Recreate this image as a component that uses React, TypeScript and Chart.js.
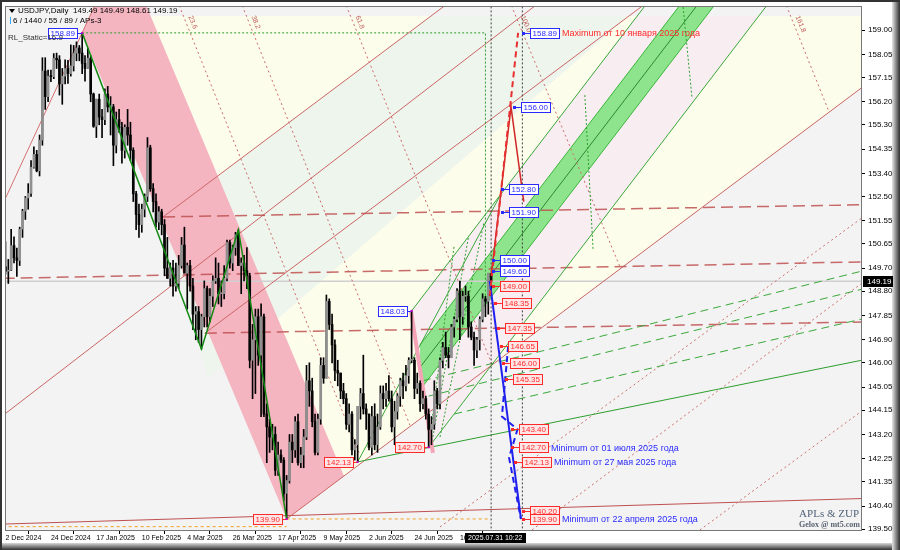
import React, { useEffect, useRef } from 'react';
import { Chart, registerables } from 'chart.js';

Chart.register(...registerables);

// ---------- candles (bar index 0 = 2 Dec 2024) ----------
const OPEN = [149.75,149.58,149.62,150.58,150.10,150.00,151.22,151.92,152.44,152.62,153.64,154.14,153.50,154.70,157.40,156.40,157.20,157.18,157.90,157.84,156.90,157.20,157.50,157.30,157.60,158.10,158.30,158.10,157.70,157.50,157.90,156.50,155.24,156.30,155.60,155.50,156.50,156.00,156.00,154.50,155.50,155.20,154.30,155.20,154.90,154.30,152.60,151.80,151.40,152.00,152.50,154.40,152.80,152.30,151.50,151.90,151.40,149.70,149.30,149.70,149.00,149.10,149.80,150.60,149.50,149.80,149.00,147.90,148.00,147.30,147.80,148.90,147.80,148.60,149.20,149.30,148.70,148.70,149.30,150.70,149.90,150.50,151.00,149.80,149.90,149.60,149.40,146.10,146.90,147.80,146.30,147.80,144.00,143.50,143.10,143.20,141.80,142.40,142.20,140.90,141.40,142.90,142.60,143.70,142.10,142.40,143.10,145.30,144.90,143.70,142.50,143.80,145.90,145.40,148.40,147.50,146.70,145.70,145.60,144.90,144.60,143.60,144.00,142.60,142.80,144.30,144.80,144.20,144.00,142.70,143.90,142.80,143.50,144.80,144.60,144.90,144.60,143.50,144.10,144.70,145.30,145.10,145.50,146.10,146.10,145.00,145.20,144.40,144.60,144.00,143.40,143.60,144.90,144.40,146.10,146.60,146.30,146.20,147.40,147.70,148.80,147.80,148.60,148.60,147.40,147.00,146.50,146.90,147.70,148.50,148.40,149.49];
const HIGH = [150.74,150.04,151.22,150.92,150.48,151.30,152.00,152.50,153.00,153.90,154.44,154.30,154.90,157.92,157.92,157.44,157.44,158.08,158.10,158.00,157.50,157.84,157.82,158.42,158.40,158.54,158.40,158.89,158.00,158.30,158.00,156.54,156.30,156.50,155.90,156.70,156.80,156.40,156.10,155.80,155.90,155.40,155.30,155.90,155.40,154.40,152.70,152.20,152.20,152.60,154.80,154.50,153.00,152.60,152.10,152.00,151.60,150.90,149.90,150.00,149.90,150.20,150.90,151.30,149.90,150.00,149.30,148.20,148.20,147.90,149.20,149.00,148.90,149.40,150.10,149.90,149.20,149.80,150.80,150.80,150.60,151.10,151.20,150.10,150.20,150.50,149.50,147.50,148.10,148.10,148.30,147.90,144.40,143.80,143.60,143.50,142.90,142.60,142.30,141.60,143.20,143.20,143.90,144.00,142.70,143.40,145.90,146.00,145.40,144.00,144.00,146.20,146.20,148.65,148.50,147.90,146.90,146.10,145.60,145.20,144.80,144.40,144.10,143.00,144.30,145.00,146.30,144.40,144.00,144.30,144.40,144.00,145.10,145.10,145.20,145.50,144.90,144.50,144.80,145.40,145.60,145.90,146.20,148.03,146.20,145.60,145.30,144.90,144.70,144.20,143.90,145.30,145.00,146.20,146.80,147.20,146.60,147.50,147.80,148.90,149.19,148.80,149.00,148.80,147.60,147.20,147.00,147.80,148.70,148.60,149.50,149.49];
const LOW = [149.46,149.10,149.60,149.90,149.38,149.80,150.90,151.60,152.00,152.50,153.60,153.46,153.30,154.50,155.90,156.20,156.98,157.10,157.50,156.46,156.10,156.90,156.92,157.20,157.40,157.80,157.80,157.30,157.00,157.50,156.20,155.20,154.80,155.30,154.80,155.30,155.80,154.90,153.70,154.20,155.00,153.80,154.00,154.50,153.90,152.30,151.20,150.90,151.10,151.70,152.30,152.70,151.90,151.30,151.20,151.00,149.40,149.30,149.00,148.60,148.80,148.90,149.70,149.70,148.10,148.80,147.30,146.90,146.80,146.54,147.40,147.40,147.60,148.20,149.10,148.30,148.20,148.50,149.20,149.70,149.60,150.20,149.80,148.70,149.20,148.90,145.80,144.60,144.80,145.90,143.90,143.90,142.10,142.50,142.60,141.60,141.60,142.10,140.60,139.90,141.30,142.10,142.30,142.00,141.90,141.90,143.00,144.30,143.50,142.40,142.40,143.60,145.20,145.40,147.30,146.00,145.30,145.10,144.60,144.40,143.40,143.30,142.40,142.20,142.13,143.80,144.00,143.40,142.60,142.40,142.60,142.50,143.40,144.20,144.30,144.50,143.30,142.80,143.80,144.30,144.60,144.90,145.20,146.00,144.60,144.80,144.10,144.20,143.80,142.70,142.80,143.40,144.20,144.20,145.80,146.20,145.80,146.20,147.00,147.60,146.90,147.50,148.40,147.00,146.90,145.90,146.20,146.50,147.60,147.80,147.90,148.61];
const CLOSE = [149.58,149.62,150.58,150.10,150.00,151.22,151.92,152.44,152.62,153.64,154.14,153.50,154.70,157.40,156.40,157.20,157.18,157.90,157.84,156.90,157.20,157.50,157.30,157.60,158.10,158.30,158.10,157.70,157.50,157.90,156.50,155.24,156.30,155.60,155.50,156.50,156.00,156.00,154.50,155.50,155.20,154.30,155.20,154.90,154.30,152.60,151.80,151.40,152.00,152.50,154.40,152.80,152.30,151.50,151.90,151.40,149.70,149.30,149.70,149.00,149.10,149.80,150.60,149.50,149.80,149.00,147.90,148.00,147.30,147.80,148.90,147.80,148.60,149.20,149.30,148.70,148.70,149.30,150.70,149.90,150.50,151.00,149.80,149.90,149.60,149.40,146.10,146.90,147.80,146.30,147.80,144.00,143.50,143.10,143.20,141.80,142.40,142.20,140.90,141.40,142.90,142.60,143.70,142.10,142.40,143.10,145.30,144.90,143.70,142.50,143.80,145.90,145.40,148.40,147.50,146.70,145.70,145.60,144.90,144.60,143.60,144.00,142.60,142.80,144.30,144.80,144.20,144.00,142.70,143.90,142.80,143.50,144.80,144.60,144.90,144.60,143.50,144.10,144.70,145.30,145.10,145.50,146.10,146.10,145.00,145.20,144.40,144.60,144.00,143.40,143.60,144.90,144.40,146.10,146.60,146.30,146.20,147.40,147.70,148.80,147.80,148.60,148.60,147.40,147.00,146.50,146.90,147.70,148.50,148.40,149.50,149.19];

// ---------- axes ----------
const DATE_TICK_BARS = [0, 16, 32, 48, 64, 80, 96, 112, 128, 144, 160];
const DATE_TICK_LABELS = ['2 Dec 2024', '24 Dec 2024', '17 Jan 2025', '10 Feb 2025', '4 Mar 2025', '26 Mar 2025', '17 Apr 2025', '9 May 2025', '2 Jun 2025', '24 Jun 2025', '16 Jul 2025'];
const PRICE_TICKS = [139.5, 140.4, 141.35, 142.25, 143.2, 144.15, 145.05, 146.0, 146.9, 147.85, 148.8, 149.7, 150.65, 151.55, 152.5, 153.4, 154.35, 155.3, 156.2, 157.15, 158.05, 159.0];
const X_MIN = -0.17, X_MAX = 301.59, Y_MIN = 139.43, Y_MAX = 159.94;

// ---------- zones [bar, price] ----------
const ZONE_YELLOW = [[51.1, 159.55], [310, 159.55], [310, 157.46], [99, 139.9]];
const ZONE_GREEN = [[55.5, 151.7], [149.8, 159.55], [219.4, 159.55], [71.25, 145.37]];
const ZONE_PINKISH = [[143, 148.03], [222.4, 159.55], [265.2, 159.55], [149, 142.7]];
const PINK_BAND = [[27, 158.89], [33.7, 160.5], [47.5, 160.5], [119.2, 141.58], [99, 139.9]];
const GREEN_BAND = [[145.95, 146.7], [241.1, 160.5], [253.3, 160.5], [145.95, 144.94]];
const GREEN_BAND_MID = [[145.95, 145.82], [247.2, 160.5]];

// ---------- lines [bar, price] ----------
const RED_A = [[55.5, 151.7], [165, 160.81]];
const RED_B = [[-2, 143.85], [192, 160.42]];
const RED_C = [[70.2, 147.16], [231, 160.5]];
const RED_L0 = [[99, 139.9], [305, 157.04]];
const RED_STEEP = [[-1, 152.19], [33.7, 160.5]];
const RED_BOTTOM = [[-1, 139.7], [305, 140.71]];
const DOT_FANS = [
  [[59.2, 160.5], [124.8, 142.4]],
  [[81.4, 160.5], [142.4, 143.57]],
  [[118.0, 160.5], [171.3, 145.95]],
  [[176.1, 160.5], [216.4, 149.74]],
  [[273.0, 160.5], [290, 155.8]],
];
const DOT_UWL = [
  [[153, 139.59], [305, 151.94]],
  [[185.4, 139.47], [305, 149.4]],
  [[244.5, 139.47], [305, 144.4]],
];
const DASH_H1 = [[55.5, 151.7], [305, 152.18]];
const DASH_H2 = [[-1, 149.3], [305, 149.95]];
const DASH_H3 = [[70.2, 147.16], [305, 147.6]];
const GREEN_TREND = [[124, 142.13], [305, 146.18]];
const GREEN_FAN = [
  [[147, 145.3], [305, 149.68]],
  [[149, 144.7], [305, 148.97]],
  [[158, 144.0], [305, 147.8]],
];
const GREEN_T1 = [[149, 142.7], [271.8, 160.5]];
const GREEN_T2 = [[143, 148.03], [229, 160.5]];
const GREEN_STEEP = [[124, 142.13], [174, 152.5]];
const GREEN_RL = [
  [[149, 142.7], [158, 150.6]],
  [[150, 142.8], [163, 150.9]],
  [[153, 143.1], [168.5, 151.5]],
  [[204, 156.46], [206.9, 150.41]],
  [[238.6, 159.9], [241.7, 156.38]],
];
const GREEN_ZIGZAG = [[27, 158.89], [69, 146.54], [82, 151.2], [99, 139.9]];
const GREEN_BOX = [[27, 158.89], [169, 158.89], [169, 148.4]];
const ORANGE_LOW_LEFT = [[-1, 139.6], [99, 139.6]];
const ORANGE_LOW_RIGHT = [[99, 139.9], [170, 139.9]];
const PINK_LEG = [[142.8, 148.02], [150.5, 142.48]];
const BID_LINE = [[-1, 149.19], [305, 149.19]];
const VLINE_NOW = [[171, 130], [171, 170]];
const VLINE_SHIFT = [[182, 130], [182, 170]];
const RED_PROJ_DASH = [[170.5, 148.61], [180.5, 158.89]];
const RED_PROJ = [[171, 149.4], [178, 156.0], [182.5, 152.3]];
const BLUE_PROJ = [[170.5, 149.2], [181.5, 139.9]];
const BLUE_PROJ_DASH = [[177, 146.65], [174.8, 143.9], [180.3, 143.4], [177.3, 142.3], [181.5, 139.9]];

// ---------- price labels ----------
const RIGHT_LABEL_VALUES = [158.89, 156.0, 152.8, 151.9, 150.0, 149.6, 149.0, 148.35, 147.35, 146.65, 146.0, 145.35, 143.4, 142.7, 142.13, 140.2, 139.9];
const RIGHT_LABEL_BARS = [184.7, 181.5, 177.3, 177.3, 174.1, 174.1, 174.1, 174.8, 175.9, 177.0, 177.6, 178.7, 180.8, 180.8, 181.9, 184.7, 184.7];
const RIGHT_LABEL_BLUE = [true, true, true, true, true, true, false, false, false, false, false, false, false, false, false, false, false];
const RIGHT_LABEL_NOTES = ['Maximum от 10 января 2025 года', '', '', '', '', '', '', '', '', '', '', '', '', 'Minimum от 01 июля 2025 года', 'Minimum от 27 мая 2025 года', '', 'Minimum от 22 апреля 2025 года'];
const NOTE_BLUE = [false, false, false, false, false, false, false, false, false, false, false, false, false, true, true, false, true];
const POINT_LABEL_VALUES = [158.89, 148.03, 142.13, 142.7, 139.9];
const POINT_LABEL_BARS = [27, 143, 124, 149, 99];
const POINT_LABEL_BLUE = [true, true, false, false, false];
const FAN_TEXTS = ['23.6', '38.2', '61.8', '100.0', '161.8'];
const LAST_PRICE = 149.19;
const HEADER = 'USDJPY,Daily  149.49 149.49 148.61 149.19';
const HEADER2 = '6 / 1440 / 55 / 89 / APs-3';
const HEADER3 = 'RL_Static=16.9';
const CROSS_TIME = '2025.07.31 10:22';
const CROSS_BAR = 161.8;

const FONT = '"Liberation Sans", Arial, sans-serif';

type Pt = number[];
const P = (pts: Pt[]) => pts.map(([x, y]) => ({ x, y }));
function lineDs(pts: Pt[], color: string, width: number, dash: number[] = [], order = 50) {
  return { type: 'line', data: P(pts), borderColor: color, borderWidth: width, borderDash: dash, pointRadius: 0, fill: false, tension: 0, order, spanGaps: true };
}
function zoneDs(pts: Pt[], color: string, order: number) {
  return { type: 'line', data: P([...pts, pts[0]]), borderColor: 'rgba(0,0,0,0)', borderWidth: 0, backgroundColor: color, fill: 'shape', pointRadius: 0, tension: 0, order };
}

function priceBox(ctx: CanvasRenderingContext2D, xl: number, yc: number, text: string, blue: boolean) {
  const w = Math.ceil(ctx.measureText(text).width) + 4;
  const h = 10;
  const col = blue ? '#2a2aff' : '#ff2b2b';
  const x0 = Math.round(xl) + 0.5, y0 = Math.round(yc - h / 2) + 0.5;
  ctx.fillStyle = blue ? '#ffffff' : '#ffe6e6';
  ctx.fillRect(x0, y0, w, h);
  ctx.strokeStyle = col;
  ctx.lineWidth = 1;
  ctx.setLineDash([]);
  ctx.strokeRect(x0, y0, w, h);
  ctx.fillStyle = col;
  ctx.textAlign = 'left';
  ctx.textBaseline = 'middle';
  ctx.fillText(text, x0 + 2, y0 + h / 2 + 0.5);
  return w;
}

const framePlugin = {
  id: 'mtframe',
  beforeDraw(chart: any) {
    const { ctx, chartArea: a, width, height } = chart;
    ctx.save();
    ctx.fillStyle = '#ffffff';
    ctx.fillRect(0, 0, width, height);
    let g = ctx.createLinearGradient(width - 8, 0, width, 0);
    g.addColorStop(0, '#e6e6e6');
    g.addColorStop(1, '#2e2e2e');
    ctx.fillStyle = g;
    ctx.fillRect(width - 8, 0, 8, height);
    g = ctx.createLinearGradient(0, height - 7, 0, height);
    g.addColorStop(0, '#d8d8d8');
    g.addColorStop(1, '#2e2e2e');
    ctx.fillStyle = g;
    ctx.fillRect(0, height - 7, width - 8, 7);
    ctx.fillStyle = '#333333';
    ctx.fillRect(0, 0, width, 2);
    ctx.fillRect(0, 0, 2, height);
    ctx.fillStyle = '#f3f3f3';
    ctx.fillRect(a.left, a.top, a.right - a.left, a.bottom - a.top);
    ctx.restore();
  },
  afterDraw(chart: any) {
    const { ctx, chartArea: a, scales } = chart;
    const X = (v: number) => scales.x.getPixelForValue(v);
    const Y = (v: number) => scales.y.getPixelForValue(v);
    ctx.save();
    ctx.strokeStyle = '#777777';
    ctx.lineWidth = 1;
    ctx.strokeRect(a.left + 0.5, a.top + 0.5, a.right - a.left - 1, a.bottom - a.top - 1);

    // fan labels
    ctx.font = `7px ${FONT}`;
    ctx.fillStyle = '#c05a5a';
    DOT_FANS.forEach((ln, k) => {
      const [p0, p1] = ln;
      const ang = Math.atan2(Y(p1[1]) - Y(p0[1]), X(p1[0]) - X(p0[0]));
      const t = (159.5 - p0[1]) / (p1[1] - p0[1]);
      const px = X(p0[0] + t * (p1[0] - p0[0]));
      const py = Y(159.5);
      ctx.save();
      ctx.translate(px + 3, py);
      ctx.rotate(ang);
      ctx.textAlign = 'left';
      ctx.textBaseline = 'bottom';
      ctx.fillText(FAN_TEXTS[k], 0, 0);
      ctx.restore();
    });

    ctx.font = `8px ${FONT}`;
    // point labels (box left of point)
    POINT_LABEL_VALUES.forEach((v, k) => {
      const px = X(POINT_LABEL_BARS[k]);
      const py = Y(v);
      const text = v.toFixed(2);
      const w = Math.ceil(ctx.measureText(text).width) + 4;
      const col = POINT_LABEL_BLUE[k] ? '#2a2aff' : '#ff2b2b';
      ctx.strokeStyle = col;
      ctx.setLineDash([]);
      ctx.beginPath();
      ctx.moveTo(px - 5, Math.round(py) + 0.5);
      ctx.lineTo(px, Math.round(py) + 0.5);
      ctx.stroke();
      ctx.fillStyle = '#cc00cc';
      ctx.fillRect(px - 1, py - 1, 2, 2);
      priceBox(ctx, px - 5 - w, py, text, POINT_LABEL_BLUE[k]);
    });

    // right column labels
    RIGHT_LABEL_VALUES.forEach((v, k) => {
      const xl = X(RIGHT_LABEL_BARS[k]);
      const py = Y(v);
      const col = RIGHT_LABEL_BLUE[k] ? '#2a2aff' : '#ff2b2b';
      ctx.strokeStyle = col;
      ctx.setLineDash([]);
      ctx.beginPath();
      ctx.moveTo(xl - 6, Math.round(py) + 0.5);
      ctx.lineTo(xl, Math.round(py) + 0.5);
      ctx.stroke();
      ctx.fillStyle = col;
      ctx.fillRect(Math.round(xl - 8), Math.round(py) - 1, 3, 3);
      const w = priceBox(ctx, xl, py, v.toFixed(2), RIGHT_LABEL_BLUE[k]);
      const note = RIGHT_LABEL_NOTES[k];
      if (note) {
        ctx.font = `9px ${FONT}`;
        ctx.fillStyle = NOTE_BLUE[k] ? '#2a2aff' : '#ff2b2b';
        ctx.textAlign = 'left';
        ctx.textBaseline = 'middle';
        ctx.fillText(note, xl + w + 3, py + 1);
        ctx.font = `8px ${FONT}`;
      }
    });

    // last price on axis
    const ly = Y(LAST_PRICE);
    ctx.fillStyle = '#000000';
    ctx.fillRect(a.right + 1, Math.round(ly) - 5, 30, 11);
    ctx.fillStyle = '#ffffff';
    ctx.textAlign = 'left';
    ctx.textBaseline = 'middle';
    ctx.fillText(LAST_PRICE.toFixed(2), a.right + 5, Math.round(ly) + 1);

    // crosshair time box
    const cx = X(CROSS_BAR);
    ctx.font = `7px ${FONT}`;
    const tw = Math.ceil(ctx.measureText(CROSS_TIME).width) + 6;
    ctx.fillStyle = '#000000';
    ctx.fillRect(cx, a.bottom + 2, tw, 10);
    ctx.fillStyle = '#ffffff';
    ctx.fillText(CROSS_TIME, cx + 3, a.bottom + 7.5);

    // header
    ctx.fillStyle = '#000000';
    ctx.font = `8px ${FONT}`;
    ctx.textBaseline = 'middle';
    ctx.beginPath();
    ctx.moveTo(a.left + 4, a.top + 3);
    ctx.lineTo(a.left + 10, a.top + 3);
    ctx.lineTo(a.left + 7, a.top + 7);
    ctx.closePath();
    ctx.fill();
    ctx.fillText(HEADER, a.left + 13, a.top + 5);
    ctx.fillStyle = '#33aaff';
    ctx.fillRect(a.left + 5, a.top + 11, 1, 7);
    ctx.fillStyle = '#000000';
    ctx.fillText(HEADER2, a.left + 8, a.top + 15);
    ctx.fillStyle = '#333333';
    ctx.fillText(HEADER3, a.left + 3, a.top + 32);

    // watermark
    ctx.textAlign = 'right';
    ctx.fillStyle = '#52627a';
    ctx.font = `11px "Liberation Serif", serif`;
    ctx.fillText('APLs & ZUP', a.right - 3, a.bottom - 17);
    ctx.font = `bold 8px "Liberation Serif", serif`;
    ctx.fillStyle = '#5a6272';
    ctx.fillText('Gelox @ mt5.com', a.right - 2, a.bottom - 6);
    ctx.restore();
  },
};

export default function App() {
  const ref = useRef<HTMLCanvasElement | null>(null);
  useEffect(() => {
    if (!ref.current) return;
    const bodyColors = OPEN.map((o, i) => (CLOSE[i] >= o ? '#8f8f8f' : '#050505'));
    const datasets: any[] = [
      zoneDs(ZONE_YELLOW, '#fdfdec', 300),
      zoneDs(ZONE_GREEN, '#eef5ec', 299),
      zoneDs(ZONE_PINKISH, '#f8eef2', 298),
      zoneDs(PINK_BAND, '#f4b4c0', 297),
      zoneDs(GREEN_BAND, '#8ee48c', 296),
      lineDs(GREEN_BAND.slice(0, 2), '#3bb53b', 1, [], 95),
      lineDs(GREEN_BAND.slice(2, 4), '#3bb53b', 1, [], 95),
      lineDs(GREEN_BAND_MID, '#2a8a2a', 1, [], 95),
      lineDs(BID_LINE, '#cfcfcf', 1.5, [], 94),
      lineDs(RED_A, '#cc6666', 1, [], 90),
      lineDs(RED_B, '#cc6666', 1, [], 90),
      lineDs(RED_C, '#cc6666', 1, [], 90),
      lineDs(RED_L0, '#cc6666', 1, [], 90),
      lineDs(RED_STEEP, '#d47070', 1, [], 90),
      lineDs(RED_BOTTOM, '#c05050', 1, [], 90),
      ...DOT_FANS.map((l) => lineDs(l, '#cc6a6a', 1, [2, 3], 89)),
      ...DOT_UWL.map((l) => lineDs(l, '#cc7070', 1, [2, 3], 89)),
      lineDs(DASH_H1, 'rgba(190,80,80,0.85)', 1.5, [12, 6], 88),
      lineDs(DASH_H2, 'rgba(190,80,80,0.85)', 1.5, [12, 6], 88),
      lineDs(DASH_H3, 'rgba(190,80,80,0.85)', 1.5, [12, 6], 88),
      lineDs(GREEN_TREND, '#2e9e2e', 1, [], 87),
      ...GREEN_FAN.map((l) => lineDs(l, '#3aa83a', 1, [8, 5], 87)),
      lineDs(GREEN_T1, '#3aa83a', 1, [], 87),
      lineDs(GREEN_T2, '#3aa83a', 1, [], 87),
      lineDs(GREEN_STEEP, '#3aa83a', 1, [], 87),
      ...GREEN_RL.map((l) => lineDs(l, '#2e9e2e', 1, [2, 2], 87)),
      lineDs(GREEN_BOX, '#2e9e2e', 1, [2, 2], 86),
      lineDs(ORANGE_LOW_LEFT, '#f0a020', 1, [3, 3], 86),
      lineDs(ORANGE_LOW_RIGHT, '#f0a020', 1, [3, 3], 86),
      lineDs(VLINE_NOW, '#404040', 1, [2, 2], 85),
      lineDs(VLINE_SHIFT, '#404040', 1, [2, 2], 85),
      lineDs(PINK_LEG, '#f4a4b6', 4, [], 84),
      lineDs(GREEN_ZIGZAG, '#138a13', 1.5, [], 20),
      {
        type: 'bar',
        data: OPEN.map((o, i) => ({ x: i, y: [LOW[i], HIGH[i]] })),
        backgroundColor: '#000000',
        barThickness: 1,
        grouped: false,
        order: 30,
      },
      {
        type: 'bar',
        data: OPEN.map((o, i) => ({ x: i, y: [o, CLOSE[i]] })),
        backgroundColor: bodyColors,
        borderColor: '#000000',
        borderWidth: 0,
        barThickness: 2,
        minBarLength: 1,
        grouped: false,
        order: 29,
      },
      lineDs(RED_PROJ_DASH, '#e83030', 2, [6, 4], 10),
      lineDs(RED_PROJ, '#d02828', 1.5, [], 10),
      lineDs(BLUE_PROJ, '#2020ee', 2, [], 10),
      lineDs(BLUE_PROJ_DASH, '#2020ee', 2, [6, 4], 10),
    ];

    const chart = new Chart(ref.current, {
      type: 'line',
      data: { datasets },
      plugins: [framePlugin],
      options: {
        responsive: false,
        animation: false,
        devicePixelRatio: 1,
        events: [],
        layout: { padding: { left: 5, top: 6, right: 7, bottom: 7 } },
        plugins: { legend: { display: false }, tooltip: { enabled: false } },
        scales: {
          x: {
            type: 'linear',
            min: X_MIN,
            max: X_MAX,
            offset: false,
            grid: { display: true, drawOnChartArea: false, drawTicks: true, tickLength: 3, color: '#000000' },
            border: { display: false },
            ticks: {
              align: 'start',
              maxRotation: 0,
              minRotation: 0,
              autoSkip: false,
              padding: 0,
              color: '#000000',
              font: { family: FONT, size: 7 },
              callback: (_v: any, idx: number) => DATE_TICK_LABELS[idx],
            },
            afterBuildTicks: (s: any) => {
              s.ticks = DATE_TICK_BARS.map((v) => ({ value: v }));
            },
            afterFit: (s: any) => {
              s.height = 12;
              s.paddingLeft = 0;
              s.paddingRight = 0;
            },
          },
          y: {
            type: 'linear',
            position: 'right',
            min: Y_MIN,
            max: Y_MAX,
            grid: { display: true, drawOnChartArea: false, drawTicks: true, tickLength: 3, color: '#000000' },
            border: { display: false },
            ticks: {
              padding: 3,
              color: '#000000',
              font: { family: FONT, size: 8 },
              callback: (v: any) => Number(v).toFixed(2),
            },
            afterBuildTicks: (s: any) => {
              s.ticks = PRICE_TICKS.map((v) => ({ value: v }));
            },
            afterFit: (s: any) => {
              s.width = 31;
              s.paddingTop = 0;
              s.paddingBottom = 0;
            },
          },
        },
      } as any,
    } as any);
    return () => chart.destroy();
  }, []);

  return (
    <div style={{ position: 'absolute', left: 0, top: 0, width: 900, height: 550 }}>
      <canvas ref={ref} width={900} height={550} style={{ display: 'block', width: 900, height: 550 }} />
    </div>
  );
}
